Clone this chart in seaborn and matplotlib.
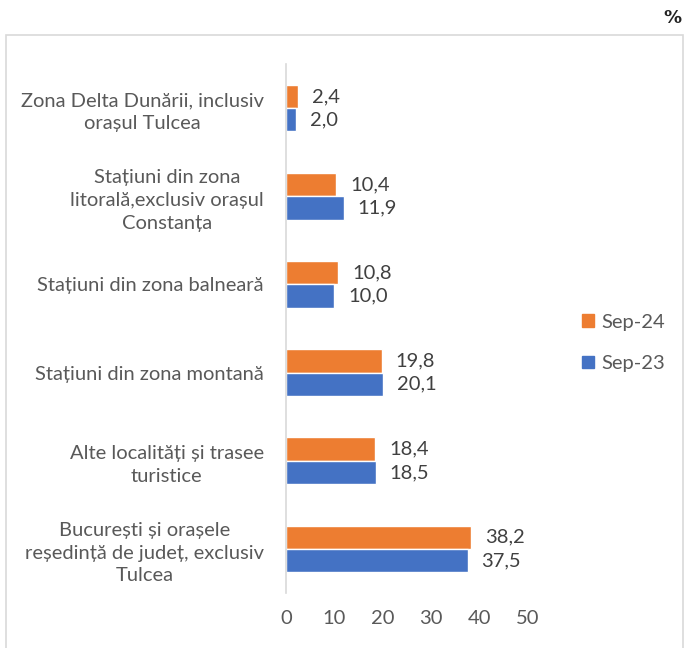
import matplotlib
matplotlib.use("Agg")
import matplotlib.pyplot as plt
import matplotlib.patches as mpatches
import pandas as pd
import seaborn as sns

categories = [
    "Zona Delta Dunării, inclusiv\norașul Tulcea",
    "Stațiuni din zona\nlitorală,exclusiv orașul\nConstanța",
    "Stațiuni din zona balneară",
    "Stațiuni din zona montană",
    "Alte localități și trasee\nturistice",
    "București și orașele\nreședință de județ, exclusiv\nTulcea",
]
sep24 = [2.4, 10.4, 10.8, 19.8, 18.4, 38.2]
sep23 = [2.0, 11.9, 10.0, 20.1, 18.5, 37.5]
series = ["Sep-24", "Sep-23"]
colors = ["#ED7D31", "#4472C4"]
x_ticks = [0, 10, 20, 30, 40, 50]

df = pd.DataFrame({
    "cat": categories * 2,
    "val": sep24 + sep23,
    "serie": [series[0]] * len(categories) + [series[1]] * len(categories),
})

sns.set_style("white")
plt.rcParams["font.family"] = ["Lato", "DejaVu Sans"]
grey = "#595959"
fs = 14.5

fig = plt.figure(figsize=(6.84, 6.48), dpi=100)
ax = fig.add_axes([286 / 684, 1 - 593 / 648, 242 / 684, 529 / 648])

sns.barplot(data=df, x="val", y="cat", hue="serie", hue_order=series,
            palette=colors, orient="h", width=0.53, ax=ax, legend=False,
            saturation=1)

for cont in ax.containers:
    ax.bar_label(cont, labels=[f"{v:.1f}".replace(".", ",") for v in cont.datavalues],
                 padding=10, fontsize=fs, color="#404040")

ax.set_xlim(0, 50)
ax.set_xticks(x_ticks)
ax.set_xticklabels([str(t) for t in x_ticks], fontsize=fs, color=grey)
ax.set_xlabel("")
ax.set_ylabel("")
ax.set_yticks(range(len(categories)))
ax.set_yticklabels(categories, fontsize=fs, color=grey, multialignment="center",
                   linespacing=1.4)
ax.tick_params(axis="both", length=0)
ax.tick_params(axis="y", pad=16)
ax.tick_params(axis="x", pad=12)
for s in ["top", "right", "bottom"]:
    ax.spines[s].set_visible(False)
ax.spines["left"].set_color("#D9D9D9")
ax.spines["left"].set_linewidth(1.2)

handles = [mpatches.Patch(color=c, label=s) for s, c in zip(series, colors)]
fig.legend(handles=handles, loc="center left", bbox_to_anchor=(564 / 684, 1 - 343 / 648),
           frameon=False, fontsize=fs, labelcolor=grey, handlelength=0.6,
           handleheight=0.6, handletextpad=0.35, labelspacing=1.2)

fig.text(672 / 684, 1 - 18 / 648, "%", fontsize=13, fontweight="bold",
         family="DejaVu Sans", ha="center", va="center", color="#222222")

frame = mpatches.Rectangle((6 / 684, -0.01), 677 / 684, 1 - 35 / 648 + 0.01,
                           transform=fig.transFigure, fill=False,
                           edgecolor="#D9D9D9", linewidth=1.2)
fig.patches.append(frame)

fig.savefig("out.png", dpi=100)
